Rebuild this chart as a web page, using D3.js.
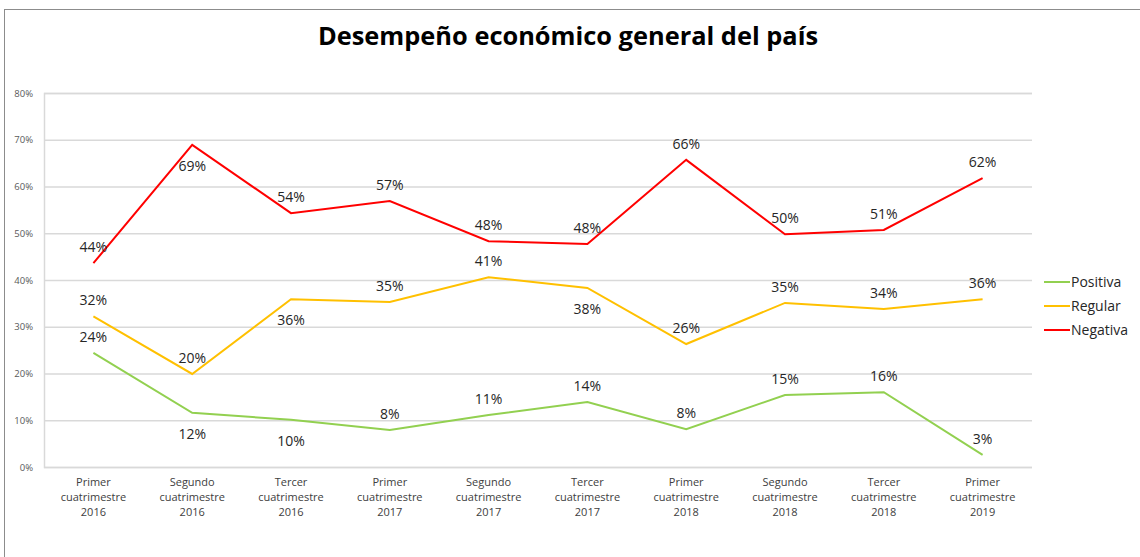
<!DOCTYPE html>
<html>
<head>
<meta charset="utf-8">
<script src="https://cdn.jsdelivr.net/npm/d3@7"></script>
<style>
  html, body { margin: 0; padding: 0; background: #fff; }
  svg { display: block; }
</style>
</head>
<body>
<svg id="chart" width="1140" height="557"></svg>
<script>
// Periods shown on the x axis (one line per array entry)
const categories = [
  ["Primer", "cuatrimestre", "2016"],
  ["Segundo", "cuatrimestre", "2016"],
  ["Tercer", "cuatrimestre", "2016"],
  ["Primer", "cuatrimestre", "2017"],
  ["Segundo", "cuatrimestre", "2017"],
  ["Tercer", "cuatrimestre", "2017"],
  ["Primer", "cuatrimestre", "2018"],
  ["Segundo", "cuatrimestre", "2018"],
  ["Tercer", "cuatrimestre", "2018"],
  ["Primer", "cuatrimestre", "2019"]
];

// Share of respondents per opinion
const positiva = [0.244, 0.116, 0.101, 0.079, 0.111, 0.139, 0.081, 0.154, 0.160, 0.026];
const regular  = [0.322, 0.199, 0.359, 0.353, 0.406, 0.383, 0.263, 0.351, 0.338, 0.359];
const negativa = [0.436, 0.689, 0.543, 0.569, 0.483, 0.477, 0.657, 0.498, 0.507, 0.618];

// Where each value label sits relative to its point
const positivaLabelSide = ["up", "down", "down", "up", "up", "up", "up", "up", "up", "up"];
const regularLabelSide  = ["up", "up", "down", "up", "up", "down", "up", "up", "up", "up"];
const negativaLabelSide = ["up", "down", "up", "up", "up", "up", "up", "up", "up", "up"];

const seriesNames = ["Positiva", "Regular", "Negativa"];
const yTicks = [0, 0.1, 0.2, 0.3, 0.4, 0.5, 0.6, 0.7, 0.8];

const series = [
  { name: seriesNames[0], values: positiva, sides: positivaLabelSide, color: "#92d050" },
  { name: seriesNames[1], values: regular,  sides: regularLabelSide,  color: "#ffc000" },
  { name: seriesNames[2], values: negativa, sides: negativaLabelSide, color: "#ff0000" }
];

const font = "'Open Sans', sans-serif";
const svg = d3.select("#chart");

// Outer chart frame
svg.append("rect")
  .attr("x", 4.5).attr("y", 9.5)
  .attr("width", 1200).attr("height", 600)
  .attr("fill", "#fff").attr("stroke", "#8c8c8c").attr("stroke-width", 1);

const plot = { left: 44, right: 1032, top: 93, bottom: 467 };

const x = d3.scaleBand()
  .domain(d3.range(categories.length))
  .range([plot.left, plot.right]);

const y = d3.scaleLinear()
  .domain([0, 0.8])
  .range([plot.bottom, plot.top]);

const xc = i => x(i) + x.bandwidth() / 2;

// Title
svg.append("text")
  .attr("x", 568).attr("y", 45)
  .attr("text-anchor", "middle")
  .attr("font-family", font)
  .attr("font-weight", "bold")
  .attr("font-size", 25.4)
  .attr("fill", "#000")
  .text("Desempeño económico general del país");

// Horizontal gridlines + y labels
const yAxis = d3.axisLeft(y)
  .tickValues(yTicks)
  .tickFormat(d3.format(".0%"))
  .tickSize(-(plot.right - plot.left))
  .tickPadding(11);

const yg = svg.append("g")
  .attr("transform", `translate(${plot.left},0)`)
  .call(yAxis);
yg.select(".domain").attr("stroke", "#d9d9d9").attr("stroke-width", 1.5);
yg.selectAll(".tick line").attr("stroke", "#d9d9d9").attr("stroke-width", 1.5);
yg.selectAll(".tick text")
  .attr("font-family", font)
  .attr("font-size", 9.5)
  .attr("fill", "#595959");

// X labels
const xAxis = d3.axisBottom(x).tickSize(0).tickFormat(() => "");
const xg = svg.append("g")
  .attr("transform", `translate(0,${plot.bottom})`)
  .call(xAxis);
xg.select(".domain").remove();
xg.selectAll(".tick").each(function (d) {
  const t = d3.select(this).append("text")
    .attr("text-anchor", "middle")
    .attr("font-family", font)
    .attr("font-size", 11)
    .attr("fill", "#404040");
  categories[d].forEach((line, k) => {
    t.append("tspan").attr("x", 0).attr("y", 19 + k * 15).text(line);
  });
});

// Series lines
const line = d3.line()
  .x((d, i) => xc(i))
  .y(d => y(d));

const fmt = d3.format(".0%");

series.forEach(s => {
  svg.append("path")
    .datum(s.values)
    .attr("fill", "none")
    .attr("stroke", s.color)
    .attr("stroke-width", 2)
    .attr("stroke-linejoin", "miter")
    .attr("d", line);
});

// Value labels
series.forEach(s => {
  svg.append("g").selectAll("text")
    .data(s.values)
    .join("text")
    .attr("x", (d, i) => xc(i))
    .attr("y", (d, i) => y(d) + (s.sides[i] === "up" ? -11 : 26))
    .attr("text-anchor", "middle")
    .attr("font-family", font)
    .attr("font-size", 14)
    .attr("fill", "#262626")
    .text(d => fmt(d));
});

// Legend
const legend = svg.append("g").attr("transform", "translate(1044,282)");
series.forEach((s, i) => {
  const g = legend.append("g").attr("transform", `translate(0,${i * 24})`);
  g.append("line")
    .attr("x1", 0).attr("x2", 26)
    .attr("stroke", s.color).attr("stroke-width", 2);
  g.append("text")
    .attr("x", 27).attr("y", 5)
    .attr("font-family", font)
    .attr("font-size", 14)
    .attr("fill", "#262626")
    .text(s.name);
});
</script>
</body>
</html>
